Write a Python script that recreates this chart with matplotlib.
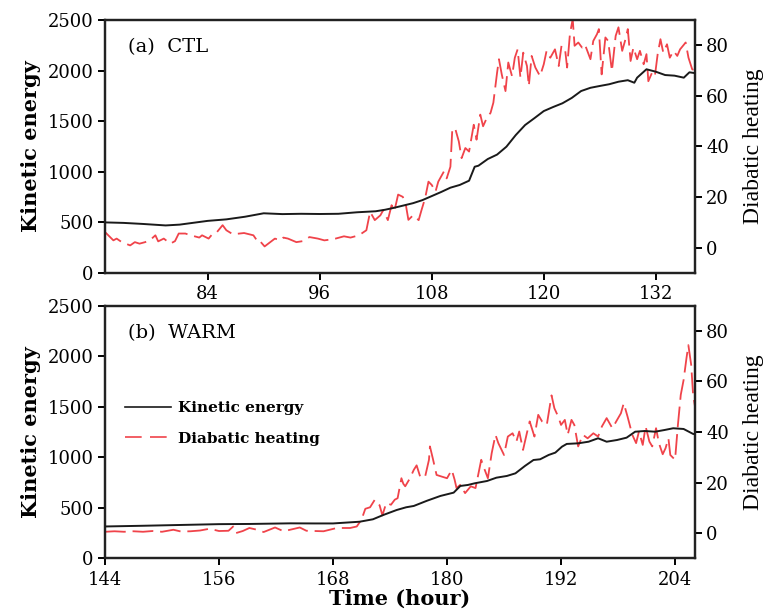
import matplotlib.pyplot as plt
from matplotlib.lines import Line2D

# ---- data ----
# (a) CTL
ctl_ke_hour = [73, 75, 77, 79.5, 81, 84, 86, 88, 90, 92, 94, 96, 98, 100, 102, 103, 104, 105.2,
               106, 107, 108, 109, 110, 111, 112, 112.6, 113, 114, 115, 116, 117, 118, 119, 120,
               121, 122, 123, 124, 125, 126, 127, 128, 129, 129.7, 130, 131, 132, 133, 134, 135,
               135.6, 136.2]
ctl_ke = [500, 495, 485, 470, 478, 515, 530, 556, 590, 582, 585, 583, 585, 600, 610, 625, 645, 672,
          690, 720, 760, 800, 843, 870, 912, 1050, 1060, 1126, 1170, 1248, 1363, 1462, 1530, 1600,
          1640, 1677, 1730, 1798, 1830, 1848, 1865, 1890, 1905, 1880, 1930, 2013, 1989, 1956, 1950, 1930,
          1983, 1975]

ctl_dh_hour = [73.0, 73.9, 74.25, 74.8, 75.7, 76.2, 76.7, 77.3, 77.8, 78.4, 78.7, 79.3, 80.0, 80.5,
               80.9, 81.6, 82.2, 83.1, 83.4, 84.1, 84.6, 85.0, 85.6, 86.0, 86.7, 87.4, 87.9, 88.9,
               89.4, 89.6, 90.1, 91.2, 91.8, 92.1, 92.6, 93.5, 94.2, 94.9, 95.8, 96.5, 97.1, 97.7,
               98.6, 99.3, 100.2, 101.0, 101.4, 101.9, 102.5, 102.8, 103.3, 103.7, 104.0, 104.4,
               104.9, 105.2, 105.5, 106.0, 106.6, 106.9, 107.3, 107.65, 108.0, 108.4, 108.7, 109.3,
               109.6, 110.0, 110.2, 110.5, 110.9, 111.2, 111.6, 112.0, 112.5, 112.8, 113.2, 113.5,
               113.9, 114.3, 114.6, 115.0, 115.2, 115.5, 115.9, 116.2, 116.6, 116.9, 117.2, 117.5,
               117.8, 118.2, 118.4, 118.7, 119.1, 119.6, 120.0, 120.3, 120.7, 121.2, 121.6, 121.9,
               122.3, 122.5, 122.8, 123.1, 123.3, 123.7, 124.1, 124.4, 125.0, 125.3, 125.7, 125.9,
               126.2, 126.6, 126.9, 127.3, 127.7, 128.0, 128.4, 128.7, 129.0, 129.3, 129.6, 130.0,
               130.3, 130.7, 131.0, 131.2, 131.6, 131.9, 132.2, 132.5, 132.8, 133.2, 133.5, 133.9,
               134.3, 134.6, 135.2, 135.5, 135.9, 136.2]
ctl_dh = [6.2, 2.9, 3.6, 2.2, 0.9, 2.2, 1.6, 2.2, 2.9, 4.9, 2.5, 3.6, 1.6, 2.6,
          5.6, 5.6, 4.9, 4.0, 4.9, 3.6, 5.8, 6.2, 8.9, 6.9, 5.3, 5.6, 5.8, 4.9,
          2.2, 2.6, 0.5, 3.6, 2.9, 4.0, 3.6, 2.2, 2.6, 4.2, 3.6, 2.9, 3.2, 3.6,
          4.5, 4.0, 4.9, 6.9, 14.2, 10.9, 12.8, 14.8, 10.9, 16.8, 14.5, 21.0,
          20.1, 17.5, 11.0, 12.8, 10.9, 14.8, 19.7, 26.1, 24.8, 22.1, 26.1, 30.1,
          27.4, 32.0, 46.6, 47.3, 42.0, 35.4, 39.4, 38.0, 48.6, 42.7, 52.6, 48.0,
          51.3, 53.3, 57.3, 69.2, 74.5, 68.5, 61.9, 73.2, 67.8, 75.1, 78.4, 67.2,
          77.1, 71.8, 63.9, 75.8, 71.2, 67.8, 72.5, 77.8, 75.1, 78.4, 71.8, 79.8,
          77.8, 71.2, 84.4, 90.4, 79.8, 81.1, 79.1, 80.4, 74.5, 81.7, 84.4, 86.4,
          68.5, 83.1, 81.7, 69.8, 83.7, 87.1, 77.8, 81.7, 86.4, 73.8, 79.1, 74.5,
          77.8, 72.5, 76.5, 65.8, 69.2, 67.8, 76.5, 82.4, 77.1, 80.4, 75.1, 77.8,
          75.8, 78.4, 81.1, 75.1, 70.5, 70.1]

# (b) WARM
warm_ke_hour = [144, 148, 152, 156, 159.3, 163.5, 166, 168, 170.8, 172.2, 173.3, 174.7, 175.7,
                176.5, 177.9, 179.3, 180.7, 181.4, 182.2, 182.9, 184.2, 185.2, 186.3, 187.2,
                188.2, 189.1, 189.8, 190.7, 191.4, 192.1, 192.6, 193.8, 194.9, 195.9, 196.8,
                197.9, 198.9, 199.8, 200.8, 201.9, 202.9, 203.8, 204.9, 205.9, 206.1]
warm_ke = [315, 322, 330, 338, 340, 346, 345, 345, 362, 386, 429, 478, 505,
           518, 570, 617, 650, 716, 726, 742, 765, 798, 815, 841,
           914, 973, 980, 1023, 1046, 1105, 1132, 1138, 1154, 1188, 1154,
           1171, 1194, 1253, 1260, 1253, 1270, 1287, 1280, 1231, 1228]

warm_dh_hour = [144.0, 145, 146, 147, 148, 149, 150, 151.2, 152, 153, 154, 155, 156, 157, 157.5,
                157.8, 158.5, 159.2, 160.0, 160.7, 161.9, 162.8, 164.5, 165.2, 167.0, 168.4,
                169.8, 170.5, 171.0, 171.4, 171.9, 172.4, 172.9, 173.2, 173.6, 174.1, 174.5,
                174.8, 175.2, 175.4, 175.6, 176.1, 176.5, 176.8, 177.2, 177.7, 178.1, 178.2,
                178.5, 178.9, 179.4, 180.0, 180.5, 180.8, 181.0, 181.4, 181.9, 182.5, 183.0,
                183.6, 183.9, 184.3, 184.7, 185.1, 185.4, 186.0, 186.4, 186.9, 187.3, 187.6,
                188.0, 188.4, 188.7, 189.2, 189.6, 190.0, 190.5, 191.0, 191.3, 191.7, 192.0,
                192.4, 192.7, 193.1, 193.4, 193.8, 194.3, 194.8, 195.4, 195.9, 196.3, 196.8,
                197.4, 197.9, 198.3, 198.6, 199.0, 199.5, 199.9, 200.2, 200.6, 200.9, 201.3,
                201.6, 202.0, 202.3, 202.7, 203.0, 203.3, 203.5, 204.0, 204.3, 204.6, 204.9,
                205.2, 205.4, 205.7, 205.9, 206.1]
warm_dh = [0.5, 0.7, 0.5, 0.7, 0.5, 0.8, 0.5, 1.3, 0.6, 0.7, 1.0, 1.7, 0.8, 0.9, 2.6,
           0.0, 0.8, 2.0, 1.3, 0.4, 2.2, 0.7, 2.2, 0.9, 0.7, 2.0,
           2.0, 2.6, 5.3, 9.6, 10.2, 13.2, 11.0, 7.0, 11.9, 11.2, 13.2,
           13.8, 21.7, 19.5, 18.5, 21.7, 25.0, 26.8, 22.0, 22.4, 29.0, 34.3,
           29.6, 23.0, 22.4, 21.7, 25.0, 21.1, 17.8, 19.1, 15.8, 18.5, 17.8,
           29.0, 25.7, 21.7, 31.6, 38.9, 35.6, 30.9, 38.2, 39.5, 36.2, 40.2,
           32.9, 39.5, 44.2, 38.2, 46.8, 44.2, 42.8, 54.5, 49.4, 46.1, 42.8,
           44.8, 38.9, 44.8, 42.8, 34.3, 38.9, 37.5, 39.5, 38.2, 42.2, 45.5,
           41.5, 44.8, 47.4, 51.4, 46.1, 38.9, 35.6, 40.2, 34.9, 42.2, 36.2,
           34.3, 41.5, 35.6, 31.2, 33.6, 37.5, 30.9, 29.0, 42.8, 54.7, 60.6,
           69.2, 74.4, 66.5, 54.7, 50.1]

panels = [
    dict(ke_h=ctl_ke_hour, ke=ctl_ke, dh_h=ctl_dh_hour, dh=ctl_dh, xlim=(73, 136.2),
         xticks=[84, 96, 108, 120, 132], title="(a)  CTL"),
    dict(ke_h=warm_ke_hour, ke=warm_ke, dh_h=warm_dh_hour, dh=warm_dh, xlim=(144, 206.1),
         xticks=[144, 156, 168, 180, 192, 204], title="(b)  WARM"),
]

plt.rcParams['font.family'] = 'DejaVu Serif'
fig = plt.figure(figsize=(7.64, 6.15), dpi=100)

boxes = [[0.1374, 0.5561, 0.7723, 0.4114], [0.1374, 0.0922, 0.7723, 0.4107]]
red = '#f0434a'
dash = (11.5, 3.8)

for i, p in enumerate(panels):
    ax = fig.add_axes(boxes[i])
    ax2 = ax.twinx()
    ax.plot(p['ke_h'], p['ke'], color='#1a1a1a', lw=1.4, zorder=3)
    ax2.plot(p['dh_h'], p['dh'], color=red, lw=1.3, dashes=dash)
    ax.set_xlim(*p['xlim'])
    ax.set_ylim(0, 2500)
    ax.set_yticks([0, 500, 1000, 1500, 2000, 2500])
    ax.set_xticks(p['xticks'])
    ax2.set_ylim(-10, 90)
    ax2.set_yticks([0, 20, 40, 60, 80])
    ax.set_zorder(ax2.get_zorder() + 1)
    ax.patch.set_visible(False)
    for a in (ax, ax2):
        for s in a.spines.values():
            s.set_linewidth(1.6)
            s.set_color('#222222')
    ax.tick_params(axis='both', direction='out', length=5, width=1.4, labelsize=13, pad=3)
    ax.tick_params(axis='x', pad=4)
    ax2.tick_params(axis='y', direction='out', length=5, width=1.4, labelsize=13, pad=3)
    ax.set_ylabel("Kinetic energy", fontsize=15, fontweight='bold', labelpad=5)
    ax2.set_ylabel("Diabatic heating", fontsize=17, family='Liberation Serif', labelpad=10)
    ax.text(0.039, 0.893, p['title'], transform=ax.transAxes, fontsize=14, va='center', ha='left')
    if i == 1:
        ax.set_xlabel("Time (hour)", fontsize=15, fontweight='bold', labelpad=0)
        handles = [Line2D([], [], color='#1a1a1a', lw=1.2),
                   Line2D([], [], color=red, lw=1.2, dashes=(10, 5))]
        ax.legend(handles, ["Kinetic energy", "Diabatic heating"], loc='upper left',
                  bbox_to_anchor=(125 / 764, 1 - 401 / 615), bbox_transform=fig.transFigure,
                  frameon=False, borderpad=0, borderaxespad=0, handlelength=3.0,
                  handletextpad=0.5, labelspacing=1.1,
                  prop={'weight': 'bold', 'size': 11})

fig.savefig("out.png", dpi=100)
